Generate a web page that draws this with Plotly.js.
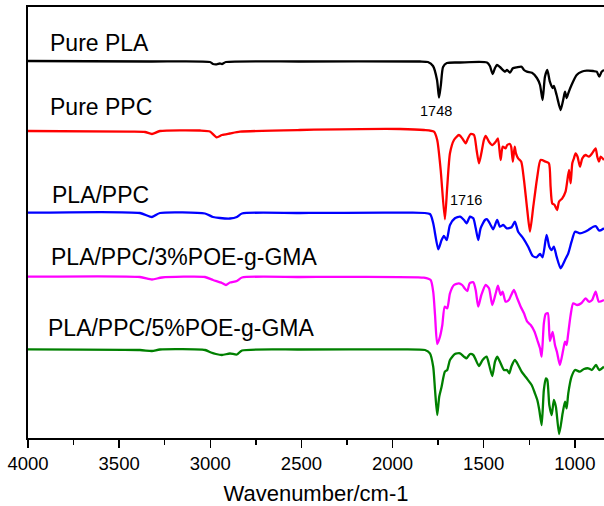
<!DOCTYPE html>
<html>
<head>
<meta charset="utf-8">
<script src="https://cdn.plot.ly/plotly-3.0.1.min.js"></script>
<style>
  html, body { margin: 0; padding: 0; background: #fff; }
  #chart { width: 604px; height: 506px; }
</style>
</head>
<body>
<div id="chart"></div>
<script>
// Wavenumber (cm-1) and relative intensity (arbitrary units, offset per curve)
const plaWn = [4000,3331,3002,2985,2965,2947,2936,2914,2508,1850,1806,1778,1756,1745,1735,1723,1702,1630,1482,1466,1451,1438,1427,1411,1383,1372,1356,1340,1318,1292,1279,1263,1235,1208,1191,1177,1164,1151,1137,1122,1115,1100,1078,1064,1054,1045,1036,1018,990,963,935,899,880,866,853,840];
const plaY  = [377,376.5,376,374,373.7,374.5,374,376,376.5,376.5,376,372,358,340.3,353,371,375,375.5,375.5,372,364,370,373,371,366.3,368,365.3,369.7,370.7,371.3,368,366.3,365.3,360,353,338,361.3,368,356.3,350,352,343,328,338,346.3,340,344.7,353,363,366.3,367.3,367,366.3,361.3,366.3,368];

const ppcWn = [4000,3440,3358,3320,3276,3056,3002,2965,2936,2892,2837,2508,1959,1828,1773,1755,1736,1713,1700,1685,1663,1636,1618,1599,1586,1572,1553,1539,1526,1513,1499,1489,1471,1453,1434,1422,1407,1396,1380,1371,1356,1349,1340,1330,1323,1311,1294,1279,1261,1246,1228,1206,1188,1160,1142,1133,1124,1111,1097,1087,1069,1051,1032,1023,1014,1005,996,985,972,959,941,923,905,886,877,868,858,840];
const ppcY  = [307,306.3,306,304,307,307.5,306.5,300.7,303,304.5,306.3,308,309,308,306.3,298,268,218.7,251.3,284.7,298,303,299.7,294.7,299.7,304,303,288,274.7,284.7,298,302,296.3,293,296.3,299.7,278,291.3,289.7,293,294,291,276.3,291.3,284.7,279.7,276.3,258,228,206.3,231.3,261.3,278,276.3,274.7,251.3,234.7,233,228,236.3,239.7,246.3,268,254.7,274.7,279.7,284.7,281.3,271.3,279.7,283,281.3,284.7,289.7,281.3,276.3,281.3,278];

const blendWn = [4000,3386,3320,3276,3029,2985,2947,2892,2854,2826,2508,1959,1795,1777,1749,1731,1718,1703,1685,1658,1630,1608,1594,1575,1557,1544,1530,1517,1493,1481,1462,1448,1426,1411,1393,1374,1347,1329,1311,1283,1256,1231,1210,1191,1177,1155,1140,1127,1115,1100,1078,1054,1036,1018,999,972,944,926,899,884,866,840];
const blendY  = [225.3,225,221,225,224.5,221,220,219.5,221,224.5,225,225.3,224,214.7,188.7,198,202,198,213,219.7,221.3,218,214.7,221.3,219.7,210,198,209.7,218,218.7,213,208.7,218,211.3,213,209.7,210.7,216.3,206.3,199.7,191.3,182,180.7,184,180.7,203,191.3,188,191.3,181.3,169.7,178,184.7,196.3,206.3,204.7,206.3,208,211.3,211.7,207.3,209.7];

const gma3Wn = [4000,3386,3320,3265,3029,2985,2936,2914,2892,2854,2826,2508,1828,1791,1777,1767,1755,1740,1727,1714,1700,1685,1663,1636,1618,1605,1590,1577,1557,1544,1530,1513,1489,1471,1453,1434,1422,1407,1396,1380,1362,1349,1334,1316,1297,1279,1261,1242,1221,1206,1191,1182,1170,1160,1148,1137,1122,1109,1098,1082,1064,1054,1045,1038,1023,1009,987,963,941,923,905,886,868,840];
const gma3Y  = [161.3,161,158.5,160.5,161,158,155,153,155.5,157,160.5,161,160.3,158,146.3,123,94,101.3,113,131.3,129.7,144.7,153,154.7,153,149.7,147,154.7,155.7,148,131.3,143,153,149.7,133,144.7,152.3,143,146.3,136.3,138,143,148,139.7,131.3,124.7,116.3,113,106.3,98,89.7,81.3,114.7,124,124.7,97,106,93,86,73,88,96.3,93,102,123,134.7,133,135,139.7,136.3,138,146.3,136.3,138];

const gma5Wn = [4000,3386,3320,3276,3029,2996,2969,2936,2892,2854,2826,2508,1959,1822,1795,1777,1767,1755,1744,1731,1713,1700,1685,1658,1630,1608,1594,1575,1557,1543,1526,1506,1484,1470,1453,1438,1426,1411,1389,1372,1360,1347,1329,1311,1292,1264,1237,1219,1206,1195,1182,1170,1159,1151,1140,1127,1115,1104,1086,1067,1054,1045,1036,1018,999,972,950,926,906,884,866,840];
const gma5Y  = [88.7,88,87,88.5,88,85.5,84,83,84.5,83.5,87.5,88.5,88.7,88,84.7,71.3,48,23,41.3,51.3,66.3,68,78,84,84.7,81.3,79.7,84,83,78,72,78,81.3,73,62,76.3,81.3,76.3,68,68,64.7,72,78,73,66.3,59.7,53,44.7,38,28,13,48,59.7,58,33,23,38,31.3,4,24.7,36.3,29.7,44.7,61.3,68,66.3,69,69.7,68,73,68,71.3];

const seriesNames = ["Pure PLA", "Pure PPC", "PLA/PPC", "PLA/PPC/3%POE-g-GMA", "PLA/PPC/5%POE-g-GMA"];
const seriesX = [plaWn, ppcWn, blendWn, gma3Wn, gma5Wn];
const seriesY = [plaY, ppcY, blendY, gma3Y, gma5Y];
const seriesColors = ["#000000", "#ff0000", "#0000ff", "#ff00ff", "#008000"];

// label positions (wavenumber, intensity)
const labelX = [3890, 3890, 3880, 3885, 3900];
const labelY = [395.3, 331.3, 243, 180.7, 109.7];
const peakText = ["1748", "1716"];
const peakX = [1762, 1597];
const peakY = [327, 238];

const FONT = "Liberation Sans, Arial, sans-serif";

const traces = seriesX.map((x, i) => ({
  type: "scatter",
  mode: "lines",
  x: x,
  y: seriesY[i],
  name: seriesNames[i],
  line: { color: seriesColors[i], width: 2.3, shape: "spline", smoothing: 0.6 },
  hoverinfo: "skip"
}));

const annotations = seriesNames.map((n, i) => ({
  x: labelX[i], y: labelY[i], xref: "x", yref: "y",
  text: n, showarrow: false, xanchor: "left", yanchor: "middle",
  font: { family: FONT, size: 23, color: "#000" }
})).concat(peakText.map((t, i) => ({
  x: peakX[i], y: peakY[i], xref: "x", yref: "y",
  text: t, showarrow: false, xanchor: "center", yanchor: "middle",
  font: { family: FONT, size: 14.5, color: "#000" }
})));

const layout = {
  width: 604, height: 506,
  margin: { l: 28, r: 0, t: 7, b: 68, autoexpand: false },
  paper_bgcolor: "#fff", plot_bgcolor: "#fff",
  showlegend: false,
  xaxis: {
    range: [4000, 840],
    tickmode: "linear", tick0: 0, dtick: 500,
    ticks: "outside", ticklen: 8, tickwidth: 1.5, tickcolor: "#000",
    minor: { dtick: 250, tick0: 0, ticks: "outside", ticklen: 5, tickwidth: 1.5, tickcolor: "#000", showgrid: false },
    showline: true, linecolor: "#000", linewidth: 2, mirror: true,
    showgrid: false, zeroline: false,
    tickfont: { family: FONT, size: 18.5, color: "#000" },
    title: { text: "Wavenumber/cm-1", font: { family: FONT, size: 22, color: "#000" }, standoff: 12 }
  },
  yaxis: {
    range: [0, 431],
    showline: true, linecolor: "#000", linewidth: 2, mirror: false,
    showticklabels: false, ticks: "", showgrid: false, zeroline: false
  },
  annotations: annotations
};

Plotly.newPlot("chart", traces, layout, { staticPlot: true, displayModeBar: false });
</script>
</body>
</html>
